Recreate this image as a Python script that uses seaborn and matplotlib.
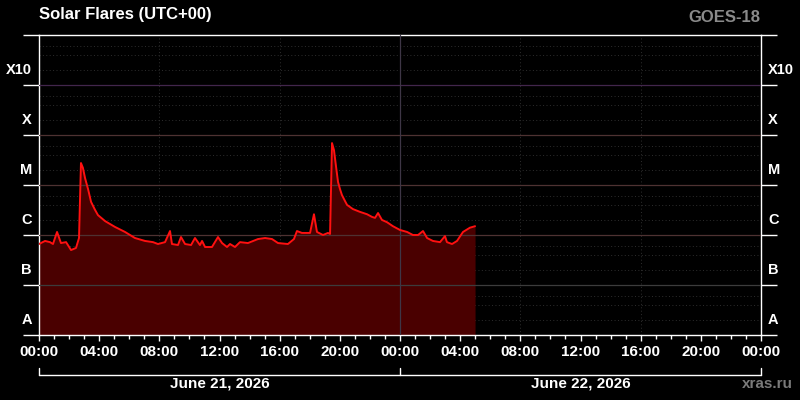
import numpy as np
import pandas as pd
import seaborn as sns
import matplotlib
matplotlib.use("Agg")
import matplotlib.pyplot as plt
from matplotlib.lines import Line2D
from matplotlib.ticker import FixedLocator, NullFormatter, NullLocator

# ---- data (hours since June 21, 2026 00:00 UTC, X-ray flux W/m^2) ----
hours = [0.0, 0.40, 0.73, 0.93, 1.20, 1.46, 1.80, 2.13, 2.46, 2.66, 2.79, 2.92,
         3.06, 3.26, 3.46, 3.72, 3.92, 4.39, 5.05, 5.72, 6.38, 7.05, 7.58, 7.91,
         8.38, 8.71, 8.84, 9.24, 9.44, 9.71, 10.11, 10.37, 10.70, 10.84, 11.04,
         11.50, 11.90, 12.17, 12.50, 12.70, 13.03, 13.36, 13.89, 14.56, 15.03,
         15.49, 15.89, 16.55, 16.95, 17.15, 17.48, 18.02, 18.28, 18.48, 18.88,
         19.21, 19.35, 19.48, 19.61, 19.75, 19.88, 20.01, 20.14, 20.34, 20.48,
         20.87, 21.34, 21.81, 22.14, 22.34, 22.54, 22.80, 23.14, 23.53, 24.00,
         24.47, 24.86, 25.20, 25.53, 25.80, 26.19, 26.66, 26.99, 27.12, 27.46,
         27.79, 28.19, 28.65, 28.99]
flux = [6.6e-7, 7.6e-7, 7.2e-7, 6.6e-7, 1.15e-6, 6.9e-7, 7.2e-7, 5.0e-7, 5.5e-7,
        8.7e-7, 2.75e-5, 2.2e-5, 1.38e-5, 8.3e-6, 4.6e-6, 3.2e-6, 2.5e-6, 1.9e-6,
        1.45e-6, 1.15e-6, 8.7e-7, 7.6e-7, 7.2e-7, 6.6e-7, 7.2e-7, 1.2e-6, 6.6e-7,
        6.3e-7, 9.1e-7, 6.6e-7, 6.3e-7, 8.7e-7, 6.3e-7, 7.6e-7, 5.75e-7, 5.75e-7,
        9.1e-7, 6.9e-7, 5.75e-7, 6.6e-7, 5.75e-7, 7.2e-7, 6.9e-7, 8.3e-7, 8.7e-7,
        8.3e-7, 6.9e-7, 6.6e-7, 8.3e-7, 1.2e-6, 1.1e-6, 1.1e-6, 2.6e-6, 1.15e-6,
        1.0e-6, 1.1e-6, 1.05e-6, 6.9e-5, 5.0e-5, 2.3e-5, 1.15e-5, 8.3e-6, 6.3e-6,
        4.8e-6, 4.0e-6, 3.3e-6, 2.9e-6, 2.6e-6, 2.3e-6, 2.2e-6, 2.75e-6, 2.0e-6,
        1.8e-6, 1.5e-6, 1.26e-6, 1.15e-6, 1.0e-6, 1.0e-6, 1.2e-6, 8.7e-7, 7.6e-7,
        7.2e-7, 9.5e-7, 7.2e-7, 6.6e-7, 7.6e-7, 1.15e-6, 1.4e-6, 1.5e-6]

class_labels = ["A", "B", "C", "M", "X", "X10"]
class_decades = [1e-8, 1e-7, 1e-6, 1e-5, 1e-4, 1e-3]
tick_hours = [0, 4, 8, 12, 16, 20, 24, 28, 32, 36, 40, 44, 48]
tick_labels = ["00:00", "04:00", "08:00", "12:00", "16:00", "20:00", "00:00",
               "04:00", "08:00", "12:00", "16:00", "20:00", "00:00"]
day_labels = ["June 21, 2026", "June 22, 2026"]
title = "Solar Flares (UTC+00)"
satellite = "GOES-18"
credit = "xras.ru"

# ---- style ----
sns.set_theme(style="dark")
plt.rcParams["font.family"] = ["Liberation Sans", "DejaVu Sans"]
plt.rcParams["font.weight"] = "bold"

fig = plt.figure(figsize=(8, 4), dpi=100, facecolor="black")
ax = fig.add_axes([39 / 800, 65 / 400, 722 / 800, 300 / 400])
ax.set_facecolor("black")

df = pd.DataFrame({"hours": hours, "flux": flux})

ax.set_yscale("log")
ax.set_ylim(1e-8, 1e-2)
ax.set_xlim(0, 48)

# dotted minor grid
dot_col = "#2e2e2e"
for d in [1e-8, 1e-7, 1e-6, 1e-5, 1e-4, 1e-3]:
    for m in (2, 4, 6):
        ax.axhline(d * m, color=dot_col, lw=0.7, ls=(0, (1, 2.5)), zorder=1)
for h in (8, 16, 32, 40):
    ax.axvline(h, color=dot_col, lw=0.7, ls=(0, (1, 2.5)), zorder=1)

# fill and line
ax.fill_between(df["hours"], df["flux"], 1e-8, color="#4a0000", lw=0, zorder=2)

# class boundary lines
bcols = {1e-7: "#3c3c3c", 1e-6: "#4e3232", 1e-5: "#4e3232", 1e-4: "#4e3232",
         1e-3: "#42264c"}
for v, c in bcols.items():
    ax.axhline(v, color=c, lw=0.9, zorder=3)
ax.axvline(24, color="#3e3646", lw=0.9, zorder=3)

sns.lineplot(data=df, x="hours", y="flux", ax=ax, color="#ff1010", lw=1.4,
             zorder=4, legend=False)
ax.set_xlabel("")
ax.set_ylabel("")
ax.grid(False)

# spines
for s in ax.spines.values():
    s.set_color("white")
    s.set_linewidth(1.0)
    s.set_visible(True)

# y ticks: long ticks at decade boundaries on both sides, no labels
ax.yaxis.set_major_locator(FixedLocator([1e-8, 1e-7, 1e-6, 1e-5, 1e-4, 1e-3, 1e-2]))
ax.yaxis.set_major_formatter(NullFormatter())
ax.yaxis.set_minor_locator(NullLocator())
ax.tick_params(axis="y", which="major", direction="out", length=11.5, width=1.0,
               color="white", left=True, right=True)

# x ticks
ax.xaxis.set_major_locator(FixedLocator(tick_hours))
ax.set_xticklabels(tick_labels)
ax.xaxis.set_minor_locator(FixedLocator(np.arange(0, 49, 1)))
ax.tick_params(axis="x", which="major", direction="out", length=4.5, width=1.0,
               color="white", labelcolor="white", labelsize=11, pad=3.0,
               bottom=True)
ax.tick_params(axis="x", which="minor", direction="out", length=3.0, width=1.0,
               color="white", bottom=True)
for lab in ax.get_xticklabels():
    lab.set_fontweight("bold")

# class labels
for lab, d in zip(class_labels, class_decades):
    ax.annotate(lab, xy=(0, d * 2), xycoords=("axes fraction", "data"),
                xytext=(-7, 0), textcoords="offset pixels", ha="right",
                va="center", color="white", fontsize=10.5, fontweight="bold",
                annotation_clip=False)
    ax.annotate(lab, xy=(1, d * 2), xycoords=("axes fraction", "data"),
                xytext=(7, 0), textcoords="offset pixels", ha="left",
                va="center", color="white", fontsize=10.5, fontweight="bold",
                annotation_clip=False)

# date bracket
yb = -40 / 300
yt = -33 / 300
tr = ax.transAxes
ax.add_line(Line2D([0, 1], [yb, yb], transform=tr, color="white", lw=1.0,
                   clip_on=False))
for xv in (0, 0.5, 1):
    ax.add_line(Line2D([xv, xv], [yb, yt], transform=tr, color="white", lw=1.0,
                       clip_on=False))
for i, lab in enumerate(day_labels):
    ax.text(0.25 + 0.5 * i, -49 / 300, lab, transform=tr, ha="center",
            va="center", color="white", fontsize=11, fontweight="bold")

# titles
fig.text(39 / 800, 1 - 15 / 400, title, ha="left", va="center", color="white",
         fontsize=12, fontweight="bold")
fig.text(760 / 800, 1 - 17 / 400, satellite, ha="right", va="center",
         color="#8a8a8a", fontsize=12, fontweight="bold")
fig.text(793 / 800, 1 - 384 / 400, credit, ha="right", va="center",
         color="#7a7a7a", fontsize=11, fontweight="bold")

fig.savefig("out.png", dpi=100, facecolor="black")
